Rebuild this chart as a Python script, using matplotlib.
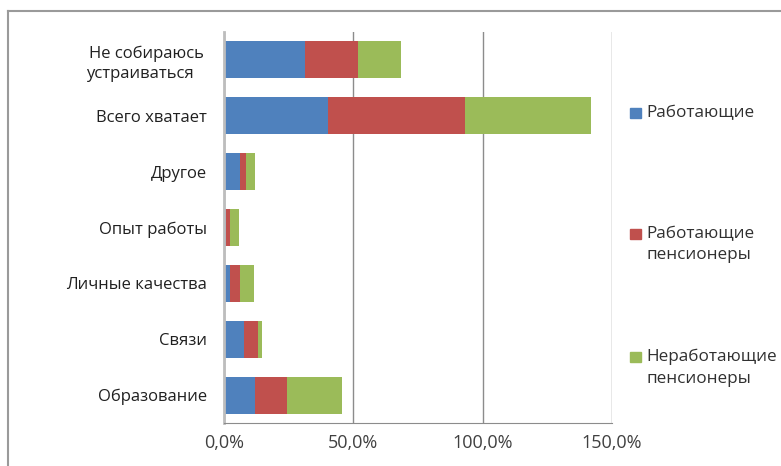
import matplotlib
matplotlib.use("Agg")
import matplotlib.pyplot as plt
from matplotlib.lines import Line2D
from matplotlib.patches import Rectangle

# categories bottom-to-top
categories = ["Образование", "Связи", "Личные качества", "Опыт работы",
              "Другое", "Всего хватает", "Не собираюсь\nустраиваться   "]
series = ["Работающие", "Работающие\nпенсионеры", "Неработающие\nпенсионеры"]
working = [12.0, 7.7, 2.3, 0.6, 6.1, 40.2, 31.3]
working_pens = [12.4, 5.6, 4.0, 1.7, 2.4, 53.0, 20.6]
nonworking_pens = [21.1, 1.4, 5.4, 3.6, 3.6, 48.5, 16.4]
xticks = [0, 50, 100, 150]
xticklabels = ["0,0%", "50,0%", "100,0%", "150,0%"]

colors = ["#4F81BD", "#C0504D", "#9BBB59"]

plt.rcParams["font.family"] = ["Open Sans", "DejaVu Sans"]

fig = plt.figure(figsize=(7.81, 4.66), dpi=100)
ax = fig.add_axes([224 / 781, 1 - 423 / 466, 388 / 781, 391 / 466])

left = [0] * len(categories)
for vals, col in zip([working, working_pens, nonworking_pens], colors):
    ax.barh(categories, vals, left=left, height=0.66, color=col, edgecolor="none")
    left = [a + b for a, b in zip(left, vals)]

ax.set_xlim(0, 150)
ax.set_ylim(-0.5, len(categories) - 0.5)
ax.set_xticks(xticks)
ax.set_xticklabels(xticklabels, fontsize=13, color="#404040")
ax.tick_params(axis="both", length=0)
ax.tick_params(axis="x", pad=8)
ax.tick_params(axis="y", pad=12, labelsize=12)
for lab in ax.get_yticklabels():
    lab.set_multialignment("center")
    lab.set_color("#202020")
    lab.set_linespacing(1.3)
ax.grid(axis="x", color="#8c8c8c", linewidth=1)
ax.set_axisbelow(True)
for s in ["top", "right"]:
    ax.spines[s].set_visible(False)
ax.spines["left"].set_color("#bdbdbd")
ax.spines["left"].set_linewidth(2)
ax.spines["bottom"].set_color("#8c8c8c")

# manual legend
leg_y = [113, 234, 357]
for name, col, y in zip(series, colors, leg_y):
    fig.patches.append(Rectangle((630 / 781, 1 - (y + 5) / 466), 11 / 781, 10 / 466,
                                 transform=fig.transFigure, color=col))
    fig.text(646 / 781, 1 - (y - 8) / 466, name, va="top", ha="left",
             fontsize=12.3, color="#303030", linespacing=1.45)

# outer frame
fig.add_artist(Line2D([8 / 781, 8 / 781], [0, 1 - 11 / 466], color="#9a9a9a", lw=1.5))
fig.add_artist(Line2D([8 / 781, 1], [1 - 11 / 466, 1 - 11 / 466], color="#9a9a9a", lw=1.5))

fig.savefig("out.png", dpi=100)
